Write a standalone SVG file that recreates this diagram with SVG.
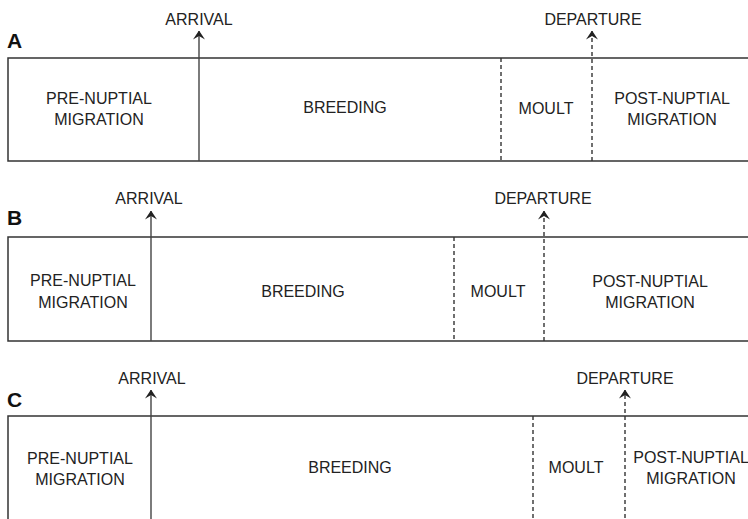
<svg xmlns="http://www.w3.org/2000/svg" width="748" height="519" viewBox="0 0 748 519">
<style>
text{font-family:"Liberation Sans",Arial,sans-serif;font-size:16px;fill:#222;text-anchor:middle}
.lab{font-weight:bold;font-size:21px;text-anchor:start;fill:#111}
.box{fill:none;stroke:#333;stroke-width:1.5}
.solid{stroke:#444;stroke-width:1.4;fill:none}
.dash{stroke:#333;stroke-width:1.4;fill:none;stroke-dasharray:4 3}
</style>
<defs>
<marker id="ah" viewBox="0 0 9 12" refX="8.5" refY="6" markerWidth="9" markerHeight="12" markerUnits="userSpaceOnUse" orient="auto">
<path d="M9,6 L0,0 L3.5,6 L0,12 Z" fill="#222"/>
</marker>
</defs>
<rect width="748" height="519" fill="#fff"/>

<g id="panelA">
<text class="lab" x="7" y="48">A</text>
<path class="box" d="M760,58 H8 V161 H760"/>
<g id="A-pre"><text x="99" y="104">PRE-NUPTIAL</text><text x="99" y="125">MIGRATION</text></g>
<g id="A-breeding"><text x="345" y="113">BREEDING</text></g>
<g id="A-moult"><text x="546" y="114">MOULT</text></g>
<g id="A-post"><text x="672" y="104">POST-NUPTIAL</text><text x="672" y="125">MIGRATION</text></g>
<g id="A-arrival"><text x="199" y="25">ARRIVAL</text></g>
<g id="A-departure"><text x="593" y="25">DEPARTURE</text></g>
</g>

<g id="panelB">
<text class="lab" x="7" y="225">B</text>
<path class="box" d="M760,237 H8 V341 H760"/>
<g id="B-pre"><text x="83" y="286">PRE-NUPTIAL</text><text x="83" y="308">MIGRATION</text></g>
<g id="B-breeding"><text x="303" y="297">BREEDING</text></g>
<g id="B-moult"><text x="498" y="297">MOULT</text></g>
<g id="B-post"><text x="650" y="287">POST-NUPTIAL</text><text x="650" y="308">MIGRATION</text></g>
<g id="B-arrival"><text x="149" y="204">ARRIVAL</text></g>
<g id="B-departure"><text x="543" y="204">DEPARTURE</text></g>
</g>

<g id="panelC">
<text class="lab" x="7" y="407">C</text>
<path class="box" d="M760,416 H8 V530"/>
<g id="C-pre"><text x="80" y="464">PRE-NUPTIAL</text><text x="80" y="485">MIGRATION</text></g>
<g id="C-breeding"><text x="350" y="473">BREEDING</text></g>
<g id="C-moult"><text x="576" y="473">MOULT</text></g>
<g id="C-post"><text x="691" y="463">POST-NUPTIAL</text><text x="691" y="484">MIGRATION</text></g>
<g id="C-arrival"><text x="152" y="384">ARRIVAL</text></g>
<g id="C-departure"><text x="625" y="384">DEPARTURE</text></g>
</g>

<g id="connectors">
<line class="solid" x1="199" y1="161" x2="199" y2="31" marker-end="url(#ah)"/>
<line class="dash" x1="501" y1="58" x2="501" y2="161"/>
<line class="dash" x1="592" y1="161" x2="592" y2="31" marker-end="url(#ah)"/>

<line class="solid" x1="151" y1="341" x2="151" y2="211" marker-end="url(#ah)"/>
<line class="dash" x1="454" y1="237" x2="454" y2="341"/>
<line class="dash" x1="544" y1="341" x2="544" y2="211" marker-end="url(#ah)"/>

<line class="solid" x1="151" y1="525" x2="151" y2="390" marker-end="url(#ah)"/>
<line class="dash" x1="533" y1="416" x2="533" y2="525"/>
<line class="dash" x1="625" y1="525" x2="625" y2="390" marker-end="url(#ah)"/>
</g>
</svg>
